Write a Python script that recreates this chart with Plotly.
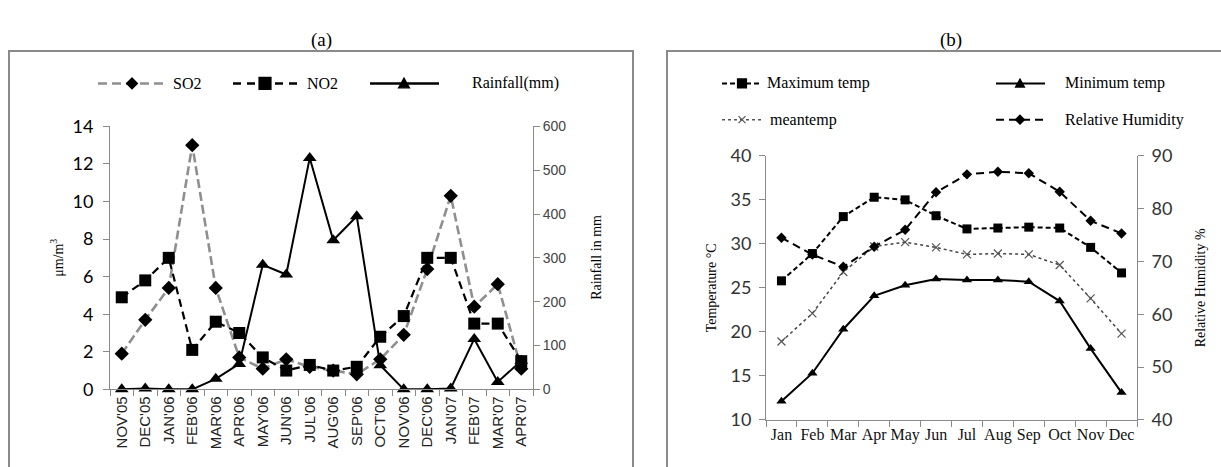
import plotly.graph_objects as go

W, H = 1221, 467

# ---------------- data (a) ----------------
months_a = ["NOV'05", "DEC'05", "JAN'06", "FEB'06", "MAR'06", "APR'06", "MAY'06", "JUN'06",
            "JUL'06", "AUG'06", "SEP'06", "OCT'06", "NOV'06", "DEC'06", "JAN'07", "FEB'07",
            "MAR'07", "APR'07"]
so2 = [1.9, 3.7, 5.4, 13.0, 5.4, 1.7, 1.1, 1.6, 1.2, 1.0, 0.8, 1.6, 2.9, 6.4, 10.3, 4.4, 5.6, 1.1]
no2 = [4.9, 5.8, 7.0, 2.1, 3.6, 3.0, 1.7, 1.0, 1.3, 1.0, 1.2, 2.8, 3.9, 7.0, 7.0, 3.5, 3.5, 1.5]
rainfall = [0, 2, 0, 0, 24, 58, 284, 262, 528, 340, 395, 55, 0, 0, 2, 115, 17, 65]

# ---------------- data (b) ----------------
months_b = ["Jan", "Feb", "Mar", "Apr", "May", "Jun", "Jul", "Aug", "Sep", "Oct", "Nov", "Dec"]
max_temp = [25.8, 28.9, 33.1, 35.3, 35.0, 33.2, 31.7, 31.8, 31.9, 31.8, 29.6, 26.7]
min_temp = [12.1, 15.3, 20.3, 24.1, 25.3, 26.0, 25.9, 25.9, 25.7, 23.5, 18.1, 13.1]
mean_temp = [18.9, 22.1, 26.8, 29.7, 30.2, 29.6, 28.8, 28.9, 28.8, 27.6, 23.8, 19.8]
rel_hum = [74.5, 71.3, 69.0, 72.8, 76.0, 83.1, 86.5, 87.0, 86.7, 83.2, 77.7, 75.3]


def px(x):
    return x / W


def py(y):
    return 1 - y / H


SERIF = "Liberation Serif"
SANS = "Liberation Sans"
AX = "#8a8a8a"

fig = go.Figure()

# ---- chart (a) traces
fig.add_trace(go.Scatter(x=months_a, y=so2, mode="lines+markers", xaxis="x", yaxis="y",
                         line=dict(color="#8f8f8f", width=2.6, dash="9px,4px"),
                         marker=dict(symbol="diamond", size=11, color="black"), cliponaxis=False))
fig.add_trace(go.Scatter(x=months_a, y=no2, mode="lines+markers", xaxis="x", yaxis="y",
                         line=dict(color="black", width=2.2, dash="8px,5px"),
                         marker=dict(symbol="square", size=12, color="black"), cliponaxis=False))
fig.add_trace(go.Scatter(x=months_a, y=rainfall, mode="lines+markers", xaxis="x", yaxis="y2",
                         line=dict(color="black", width=2),
                         marker=dict(symbol="triangle-up", size=12, color="black"), cliponaxis=False))

# ---- chart (b) traces
fig.add_trace(go.Scatter(x=months_b, y=max_temp, mode="lines+markers", xaxis="x2", yaxis="y3",
                         line=dict(color="black", width=2, dash="5px,3px"),
                         marker=dict(symbol="square", size=9, color="black"), cliponaxis=False))
fig.add_trace(go.Scatter(x=months_b, y=min_temp, mode="lines+markers", xaxis="x2", yaxis="y3",
                         line=dict(color="black", width=2),
                         marker=dict(symbol="triangle-up", size=9, color="black"), cliponaxis=False))
fig.add_trace(go.Scatter(x=months_b, y=mean_temp, mode="lines+markers", xaxis="x2", yaxis="y3",
                         line=dict(color="#444", width=1.5, dash="dot"),
                         marker=dict(symbol="x-thin-open", size=8, color="#555",
                                     line=dict(color="#555", width=1.2)), cliponaxis=False))
fig.add_trace(go.Scatter(x=months_b, y=rel_hum, mode="lines+markers", xaxis="x2", yaxis="y4",
                         line=dict(color="black", width=2, dash="8px,5px"),
                         marker=dict(symbol="diamond", size=8, color="black"), cliponaxis=False))

common_y = dict(showgrid=False, zeroline=False, showline=True, linecolor=AX, linewidth=1,
                ticks="outside", tickcolor=AX, ticklen=6)
common_x = dict(showgrid=False, zeroline=False, showline=True, linecolor=AX, linewidth=1,
                ticks="outside", tickcolor=AX, ticklen=6, type="category", tickson="boundaries")

fig.update_layout(
    width=W, height=H, margin=dict(l=0, r=0, t=0, b=0),
    paper_bgcolor="white", plot_bgcolor="white", showlegend=False,
    xaxis=dict(domain=[px(110), px(533)], anchor="y", range=[-0.5, 17.5], tickangle=-90,
               tickfont=dict(family=SANS, size=15, color="#222"), **common_x),
    yaxis=dict(domain=[py(396), py(120)], anchor="x", range=[0, 14], dtick=2,
               tickfont=dict(family="Lato", size=18, color="black"), ticklabelstandoff=6, **common_y),
    yaxis2=dict(overlaying="y", side="right", anchor="x", range=[0, 600], dtick=100,
                tickfont=dict(family=SANS, size=14, color="#444"), **common_y),
    xaxis2=dict(domain=[px(766), px(1137)], anchor="y3", range=[-0.5, 11.5], tickangle=0,
                tickfont=dict(family=SERIF, size=16, color="#111"), **common_x),
    yaxis3=dict(domain=[py(428), py(151)], anchor="x2", range=[10, 40], dtick=5,
                tickfont=dict(family="Lato", size=18, color="#333"), ticklabelstandoff=4, **common_y),
    yaxis4=dict(overlaying="y3", side="right", anchor="x2", range=[40, 90], dtick=10,
                tickfont=dict(family="Lato", size=18, color="#333"), ticklabelstandoff=4, **common_y),
)

shapes = []
# frames
shapes.append(dict(type="rect", xref="paper", yref="paper", x0=px(9), x1=px(633), y0=py(480), y1=py(41),
                   line=dict(color="#8a8a8a", width=2), layer="below"))
shapes.append(dict(type="rect", xref="paper", yref="paper", x0=px(667), x1=px(1240), y0=py(480), y1=py(41),
                   line=dict(color="#8a8a8a", width=2), layer="below"))


def lline(x0, x1, y, color, width, dash):
    return dict(type="line", xref="paper", yref="paper", x0=px(x0), x1=px(x1), y0=py(y), y1=py(y),
                line=dict(color=color, width=width, dash=dash), layer="above")


def mark(kind, cx, cy, s, color="black"):
    if kind == "diamond":
        path = f"M0,{s} L{s},0 L0,{-s} L{-s},0 Z"
    elif kind == "square":
        path = f"M{-s},{-s} L{s},{-s} L{s},{s} L{-s},{s} Z"
    elif kind == "triangle":
        path = f"M{-s},{-s*0.8} L{s},{-s*0.8} L0,{s} Z"
    else:  # x
        path = f"M{-s},{-s} L{s},{s} M{-s},{s} L{s},{-s}"
    d = dict(type="path", xref="paper", yref="paper", xsizemode="pixel", ysizemode="pixel",
             xanchor=px(cx), yanchor=py(cy), path=path, line=dict(color=color, width=1.2), layer="above")
    if kind != "x":
        d["fillcolor"] = color
    return d


# legend (a)
LY = 75
shapes += [lline(98, 165, LY, "#8f8f8f", 2.4, "9px,5px"), mark("diamond", 132, LY, 5.5),
           lline(233, 298, LY, "black", 2.4, "8px,6px"), mark("square", 265, LY, 6),
           lline(370, 439, LY, "black", 2.4, "solid"), mark("triangle", 404, LY, 5.5)]
# legend (b)
R1, R2 = 75, 113
shapes += [lline(722, 761, R1, "black", 2, "5px,3px"), mark("square", 742, R1, 4.5),
           lline(996, 1045, R1, "black", 2, "solid"), mark("triangle", 1020, R1, 4.5),
           lline(722, 761, R2, "#555", 1.5, "dot"), mark("x", 742, R2, 3.5, "#555"),
           lline(996, 1045, R2, "black", 2, "8px,5px"), mark("diamond", 1020, R2, 4.5)]
fig.update_layout(shapes=shapes)

ann = []


def text(t, x, y, size=14, anchor="left", angle=0, family=SERIF, color="black"):
    ann.append(dict(text=t, x=px(x), y=py(y), xref="paper", yref="paper", showarrow=False,
                    xanchor=anchor, yanchor="middle", textangle=angle,
                    font=dict(family=family, size=size, color=color)))


text("(a)", 321, 29, size=19, anchor="center")
text("(b)", 951, 29, size=19, anchor="center")
text("SO2", 171, LY, 16)
text("NO2", 305, LY, 16)
text("Rainfall(mm)", 470, LY, 16)
text("Maximum temp", 765, R1, 16)
text("Minimum temp", 1063, R1, 16)
text("meantemp", 768, R2, 16)
text("Relative Humidity", 1063, R2, 16)
text("μm/m<sup>3</sup>", 57, 258, 14, anchor="center", angle=-90)
text("Rainfall in mm", 597, 258, 14, anchor="center", angle=-90)
text("Temperature °C", 711, 290, 14, anchor="center", angle=-90)
text("Relative Humidity %", 1200, 290, 14, anchor="center", angle=-90)
fig.update_layout(annotations=ann)

fig.write_html("out.html", config={"displayModeBar": False},
               post_script="document.body.style.margin='0';document.body.style.overflow='hidden';")
